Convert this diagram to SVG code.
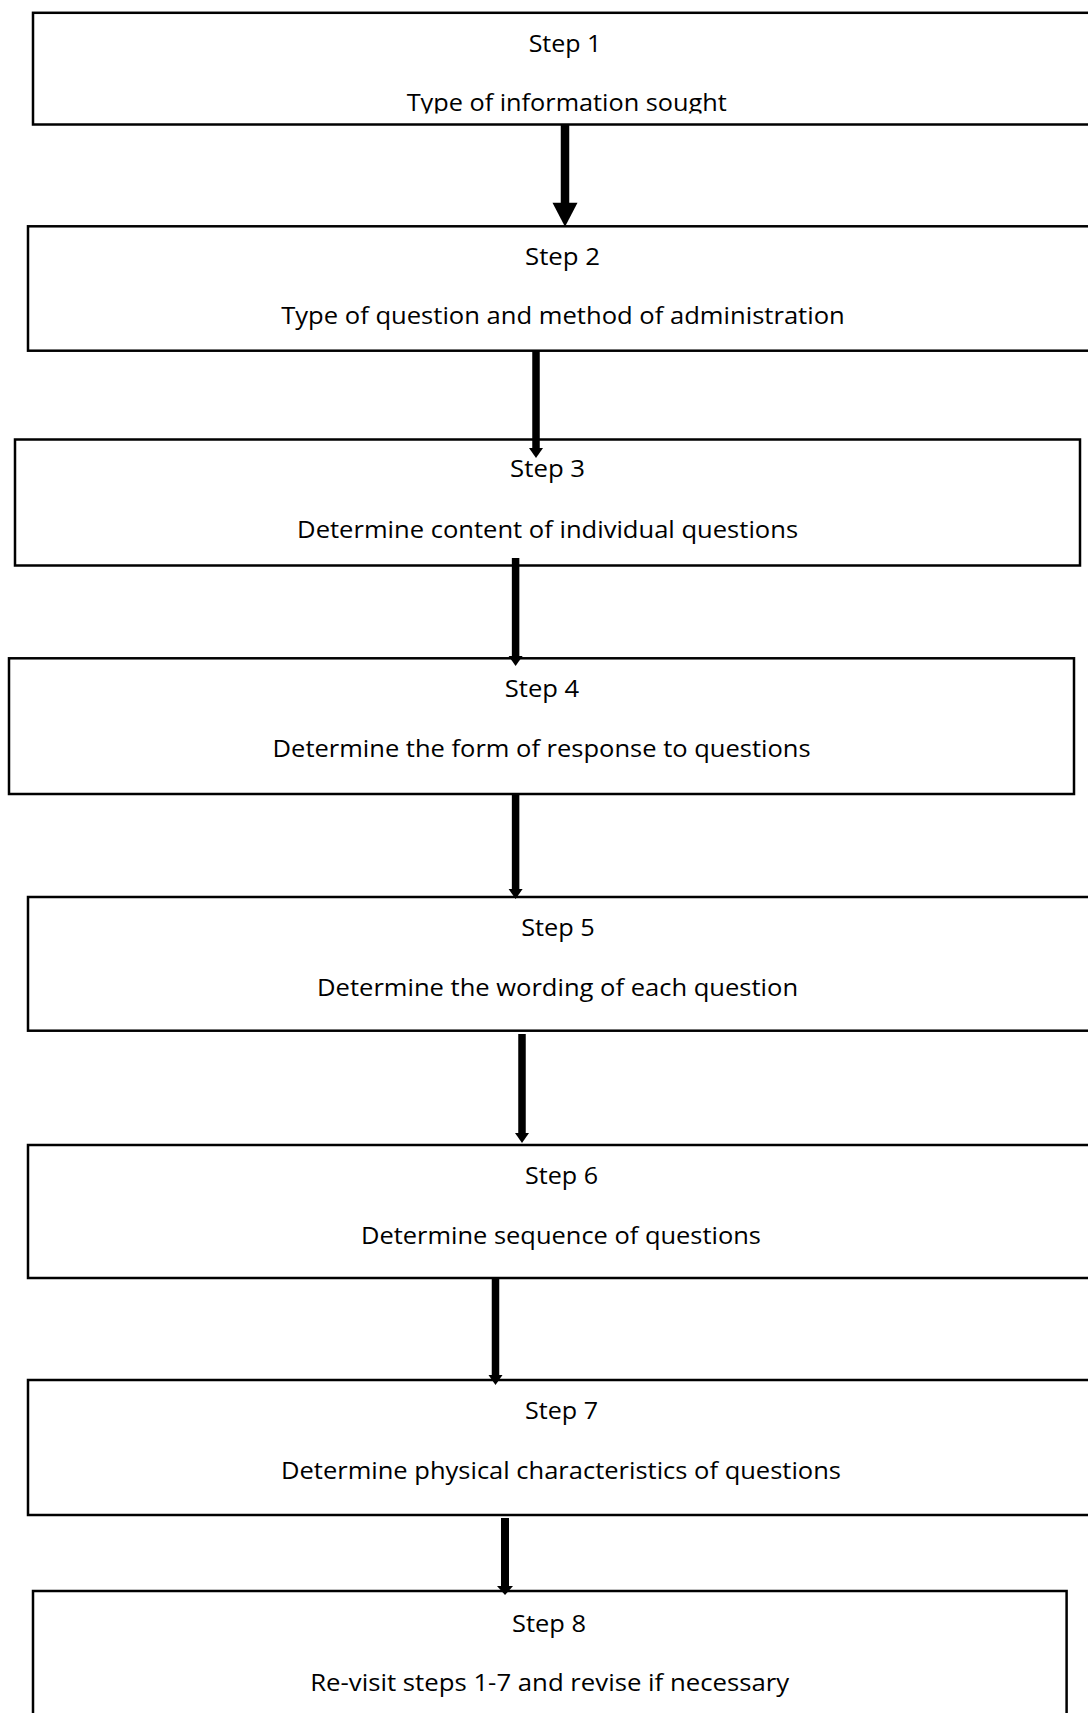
<svg xmlns="http://www.w3.org/2000/svg" width="1088" height="1713" viewBox="0 0 1088 1713">
<style>
.box{fill:#fff;stroke:#000;stroke-width:2.5}
.t{font-family:"Open Sans","Noto Sans",sans-serif;font-size:23px;fill:#000;text-anchor:middle}
.shaft{stroke:#000;fill:none}
.head{fill:#000;stroke:none}
</style>
<defs>
<clipPath id="clip1"><rect x="30" y="10" width="1060" height="103.5"/></clipPath>
</defs>
<rect width="1088" height="1713" fill="#fff"/>
<g id="step1">
<rect class="box" x="33" y="12.8" width="1070" height="111.7"/>
<g clip-path="url(#clip1)">
<text class="t" x="565" y="51.5" textLength="72.7" lengthAdjust="spacingAndGlyphs">Step 1</text>
<text class="t" x="566.7" y="110.5" textLength="320" lengthAdjust="spacingAndGlyphs">Type of information sought</text>
</g>
</g>
<g id="step2">
<rect class="box" x="28" y="226.3" width="1075" height="124.4"/>
<text class="t" x="562.5" y="264.5" textLength="75" lengthAdjust="spacingAndGlyphs">Step 2</text>
<text class="t" x="563" y="324" textLength="563.6" lengthAdjust="spacingAndGlyphs">Type of question and method of administration</text>
</g>
<g id="step3">
<rect class="box" x="15" y="439.5" width="1065" height="126"/>
<text class="t" x="547.6" y="477" textLength="75" lengthAdjust="spacingAndGlyphs">Step 3</text>
<text class="t" x="547.6" y="538" textLength="501" lengthAdjust="spacingAndGlyphs">Determine content of individual questions</text>
</g>
<g id="step4">
<rect class="box" x="9" y="658.3" width="1065" height="135.7"/>
<text class="t" x="542" y="696.5" textLength="74.5" lengthAdjust="spacingAndGlyphs">Step 4</text>
<text class="t" x="541.6" y="756.5" textLength="538" lengthAdjust="spacingAndGlyphs">Determine the form of response to questions</text>
</g>
<g id="step5">
<rect class="box" x="28" y="897" width="1075" height="133.7"/>
<text class="t" x="558" y="936" textLength="73.7" lengthAdjust="spacingAndGlyphs">Step 5</text>
<text class="t" x="557.6" y="996" textLength="481" lengthAdjust="spacingAndGlyphs">Determine the wording of each question</text>
</g>
<g id="step6">
<rect class="box" x="28" y="1145" width="1075" height="133"/>
<text class="t" x="561.5" y="1183.5" textLength="73" lengthAdjust="spacingAndGlyphs">Step 6</text>
<text class="t" x="561" y="1243.5" textLength="400" lengthAdjust="spacingAndGlyphs">Determine sequence of questions</text>
</g>
<g id="step7">
<rect class="box" x="28" y="1380" width="1075" height="135"/>
<text class="t" x="561.5" y="1418.5" textLength="73" lengthAdjust="spacingAndGlyphs">Step 7</text>
<text class="t" x="561" y="1478.5" textLength="560" lengthAdjust="spacingAndGlyphs">Determine physical characteristics of questions</text>
</g>
<g id="step8">
<rect class="box" x="33" y="1591" width="1033.6" height="140"/>
<text class="t" x="549" y="1631.5" textLength="74" lengthAdjust="spacingAndGlyphs">Step 8</text>
<text class="t" x="549.7" y="1690.5" textLength="479" lengthAdjust="spacingAndGlyphs">Re-visit steps 1-7 and revise if necessary</text>
</g>
<g id="connectors">
<line class="shaft" x1="565" y1="124.5" x2="565" y2="204" stroke-width="8.5"/>
<polygon class="head" points="552.5,202.7 577.5,202.7 565,226.7"/>
<line class="shaft" x1="536" y1="350.7" x2="536" y2="449" stroke-width="7.5"/>
<polygon class="head" points="529,448 543,448 536,458"/>
<line class="shaft" x1="515.6" y1="558" x2="515.6" y2="657" stroke-width="7.5"/>
<polygon class="head" points="508.6,656 522.6,656 515.6,666"/>
<line class="shaft" x1="515.6" y1="794" x2="515.6" y2="890" stroke-width="7.5"/>
<polygon class="head" points="508.6,889 522.6,889 515.6,899"/>
<line class="shaft" x1="522" y1="1034" x2="522" y2="1134" stroke-width="7.5"/>
<polygon class="head" points="515,1133 529,1133 522,1143"/>
<line class="shaft" x1="495.5" y1="1278" x2="495.5" y2="1376" stroke-width="7.5"/>
<polygon class="head" points="488.5,1375 502.5,1375 495.5,1385"/>
<line class="shaft" x1="505" y1="1518" x2="505" y2="1587" stroke-width="8"/>
<polygon class="head" points="497,1586 513,1586 505,1595"/>
</g>
</svg>
